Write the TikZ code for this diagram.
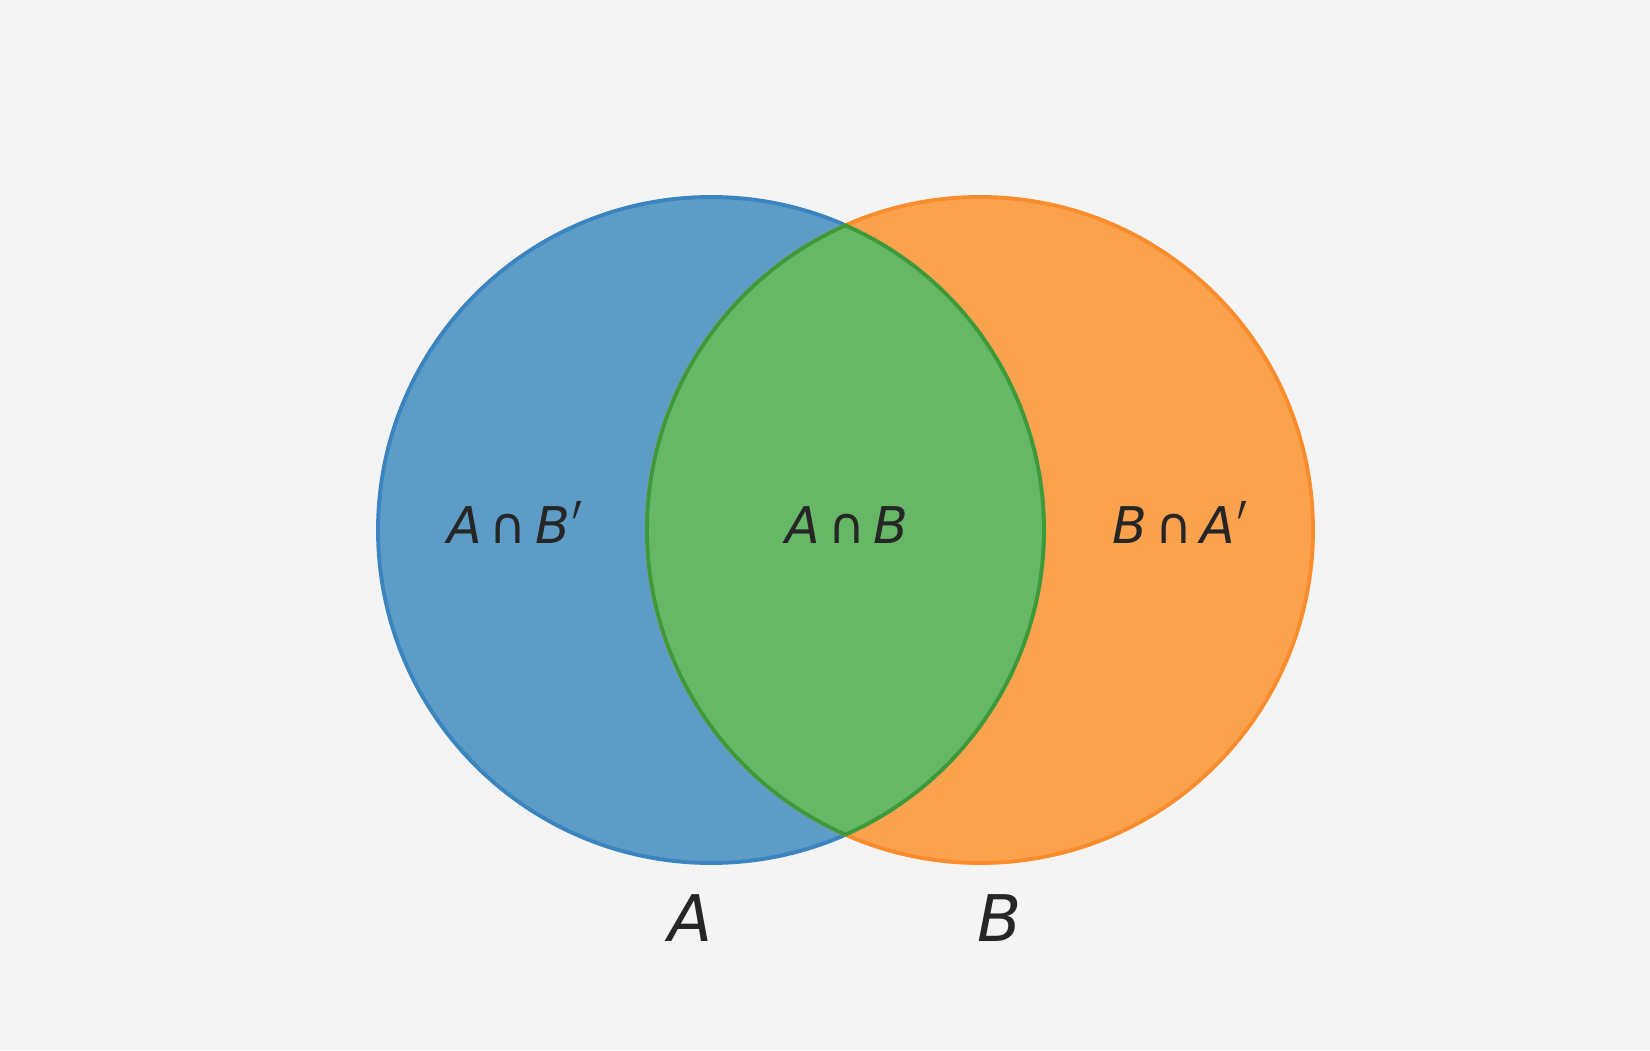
\documentclass[tikz,border=0pt]{standalone}
\usepackage{fontspec}
\setmainfont{DejaVu Sans}
\usepackage{graphicx}
\usepackage{tikz}
\usetikzlibrary{positioning,calc}
\definecolor{bg}{HTML}{F4F4F4}
\definecolor{blueA}{HTML}{5E9CC8}
\definecolor{blueAedge}{HTML}{3A84BF}
\definecolor{orangeB}{HTML}{FBA24F}
\definecolor{orangeBedge}{HTML}{FB8C2C}
\definecolor{greenAB}{HTML}{67B866}
\definecolor{greenABedge}{HTML}{3C9A3A}
\definecolor{ink}{HTML}{262626}
\newcommand{\capsp}{\hspace{0.16em}}
\newcommand{\primemark}{\hspace{0.05em}\smash{\raisebox{-1.0ex}{\scalebox{0.9}[1.9]{\upshape′}}}}

\begin{document}
\begin{tikzpicture}[
      region/.style={text=ink,font=\fontsize{14.4}{17}\selectfont},
      setlbl/.style={text=ink,font=\fontsize{18.3}{22}\selectfont\itshape},
      edge/.style={line width=1.1pt}
    ]
      % background
      \fill[bg] (0,0) rectangle (16.5,10.5);
      \useasboundingbox (0,0) rectangle (16.5,10.5);
      % centres
      \coordinate (cA) at (7.11,5.20);
      \coordinate (cB) at (9.80,5.20);
      % set A
      \fill[blueA] (cA) circle (3.33);
      \draw[blueAedge,edge] (cA) circle (3.33);
      % set B
      \fill[orangeB] (cB) circle (3.33);
      \draw[orangeBedge,edge] (cB) circle (3.33);
      % intersection
      \coordinate (top) at (8.455,8.246);
      \filldraw[fill=greenAB,draw=greenABedge,edge]
        (top) arc[start angle=66.17,end angle=-66.17,radius=3.33]
              arc[start angle=246.17,end angle=113.83,radius=3.33] -- cycle;
      % labels
      \node[region,anchor=base] (onlyA) at (5.15,5.06) {\itshape A\capsp\upshape∩\capsp\itshape B\primemark};
      \node[region,anchor=base] (both)  at (8.47,5.06) {\itshape A\capsp\upshape∩\capsp\itshape B};
      \node[region,anchor=base] (onlyB) at (11.80,5.06) {\itshape B\capsp\upshape∩\capsp\itshape A\primemark};
      \node[setlbl] (lblA) at (6.90,1.32) {A};
      \node[setlbl] (lblB) at (10.00,1.32) {B};
    \end{tikzpicture}
\end{document}
